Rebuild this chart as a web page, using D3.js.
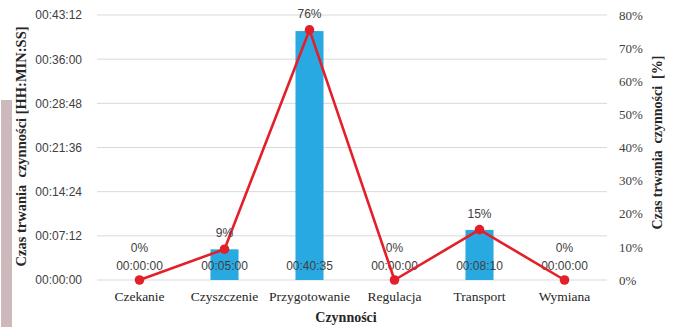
<!DOCTYPE html>
<html>
<head>
<meta charset="utf-8">
<script src="https://cdn.jsdelivr.net/npm/d3@7"></script>
<style>
  html, body { margin: 0; padding: 0; background: #fff; }
  svg { display: block; }
</style>
</head>
<body>
<svg id="chart" width="675" height="327"></svg>
<script>
// Activities and their durations (seconds) with share of total time
const categories = ["Czekanie", "Czyszczenie", "Przygotowanie", "Regulacja", "Transport", "Wymiana"];
const durations = [0, 300, 2435, 0, 490, 0];
const shares = [0, 0.093, 0.755, 0, 0.152, 0];
const timeTicks = [0, 432, 864, 1296, 1728, 2160, 2592];
const pctTicks = [0, 0.1, 0.2, 0.3, 0.4, 0.5, 0.6, 0.7, 0.8];

const svg = d3.select("#chart");
const W = 675, H = 327;
const m = { left: 97, right: 70, top: 15, bottom: 47 };
const x0 = m.left, x1 = W - m.right + 2;
const y0 = H - m.bottom, y1 = m.top;

const serif = "'Liberation Serif', 'Times New Roman', serif";
const sans = "'Liberation Sans', Arial, sans-serif";

// decorative side strip
svg.append("rect").attr("x", 1).attr("y", 100).attr("width", 11).attr("height", H - 100)
  .attr("fill", "#cdb9bb");

const x = d3.scaleBand().domain(categories).range([x0, x1]).paddingInner(0.67).paddingOuter(0.335);
const xc = d => x(d) + x.bandwidth() / 2;
const yT = d3.scaleLinear().domain([0, 2592]).range([y0, y1]);
const yP = d3.scaleLinear().domain([0, 0.8]).range([y0, y1]);

const fmtTime = s => {
  const h = Math.floor(s / 3600), mi = Math.floor((s % 3600) / 60), se = Math.round(s % 60);
  return [h, mi, se].map(v => String(v).padStart(2, "0")).join(":");
};

// gridlines
svg.append("g").selectAll("line").data(timeTicks).join("line")
  .attr("x1", x0).attr("x2", x1)
  .attr("y1", d => yT(d)).attr("y2", d => yT(d))
  .attr("stroke", "#d9d9d9").attr("stroke-width", 1);

// left axis
const axL = d3.axisLeft(yT).tickValues(timeTicks).tickFormat(fmtTime).tickSize(0).tickPadding(15);
const gL = svg.append("g").attr("transform", `translate(${x0},0)`).call(axL);
gL.select(".domain").remove();
gL.attr("font-family", sans).attr("font-size", 12);
gL.selectAll("text").attr("fill", "#404040");

// right axis
const axR = d3.axisRight(yP).tickValues(pctTicks).tickFormat(d3.format(".0%")).tickSize(0).tickPadding(12);
const gR = svg.append("g").attr("transform", `translate(${x1},0)`).call(axR);
gR.select(".domain").remove();
gR.attr("font-family", serif).attr("font-size", 13);
gR.selectAll("text").attr("fill", "#404040");

// category axis
const axB = d3.axisBottom(x).tickSize(0).tickPadding(11);
const gB = svg.append("g").attr("transform", `translate(0,${y0})`).call(axB);
gB.select(".domain").remove();
gB.attr("font-family", serif).attr("font-size", 13.5);
gB.selectAll("text").attr("fill", "#262626");

// bars
const data = categories.map((c, i) => ({ c, t: durations[i], p: shares[i] }));
svg.append("g").selectAll("rect").data(data).join("rect")
  .attr("x", d => x(d.c)).attr("width", x.bandwidth())
  .attr("y", d => yT(d.t)).attr("height", d => y0 - yT(d.t))
  .attr("fill", "#29a9e1");

// duration labels
svg.append("g").selectAll("text").data(data).join("text")
  .attr("x", d => xc(d.c)).attr("y", y0 - 10)
  .attr("text-anchor", "middle")
  .attr("font-family", sans).attr("font-size", 12).attr("fill", "#404040")
  .text(d => fmtTime(d.t));

// share line
const line = d3.line().x(d => xc(d.c)).y(d => yP(d.p));
svg.append("path").datum(data).attr("d", line)
  .attr("fill", "none").attr("stroke", "#e3202a").attr("stroke-width", 2.6)
  .attr("stroke-linejoin", "round");
svg.append("g").selectAll("circle").data(data).join("circle")
  .attr("cx", d => xc(d.c)).attr("cy", d => yP(d.p)).attr("r", 4.8)
  .attr("fill", "#e3202a");

// share labels
svg.append("g").selectAll("text").data(data).join("text")
  .attr("x", d => xc(d.c))
  .attr("y", d => d.p === 0 ? y0 - 28 : yP(d.p) - 12)
  .attr("text-anchor", "middle")
  .attr("font-family", sans).attr("font-size", 12).attr("fill", "#404040")
  .text(d => d3.format(".0%")(d.p));

// axis titles
svg.append("text").attr("transform", `translate(26,${(y0 + y1) / 2 - 1}) rotate(-90)`)
  .attr("text-anchor", "middle").attr("font-family", serif).attr("font-weight", "bold")
  .attr("font-size", 14.5).attr("fill", "#262626").attr("xml:space", "preserve")
  .text("Czas trwania  czynności [HH:MIN:SS]");
svg.append("text").attr("transform", `translate(662,${(y0 + y1) / 2 - 5}) rotate(-90)`)
  .attr("text-anchor", "middle").attr("font-family", serif).attr("font-weight", "bold")
  .attr("font-size", 14).attr("fill", "#262626").attr("xml:space", "preserve")
  .text("Czas trwania  czynności  [%]");
svg.append("text").attr("x", 346).attr("y", 322)
  .attr("text-anchor", "middle").attr("font-family", serif).attr("font-weight", "bold")
  .attr("font-size", 14).attr("fill", "#262626")
  .text("Czynności");
</script>
</body>
</html>
